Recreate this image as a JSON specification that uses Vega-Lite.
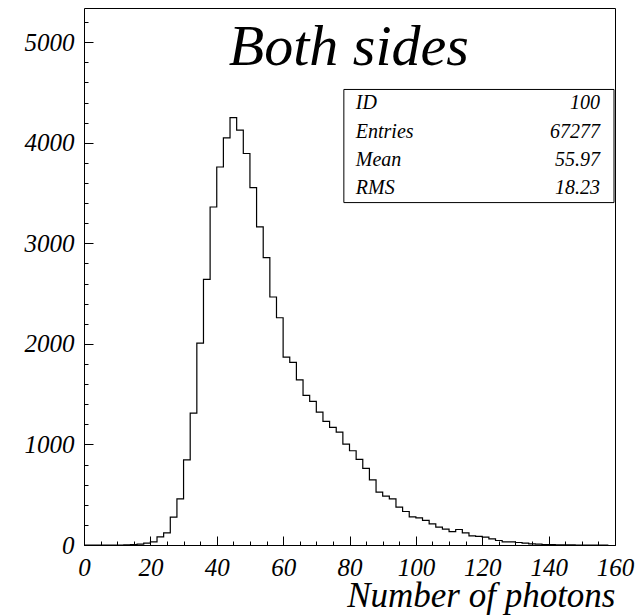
{
  "$schema": "https://vega.github.io/schema/vega-lite/v6.json",
  "width": 531,
  "height": 537,
  "autosize": {"type": "none"},
  "padding": {"left": 84, "top": 8, "right": 27, "bottom": 71},
  "background": "white",
  "config": {
    "view": {"stroke": "black", "strokeWidth": 1},
    "font": "Liberation Serif",
    "axis": {"grid": false, "domain": false, "tickColor": "black", "tickWidth": 1, "labelColor": "black", "titleColor": "black", "labelFont": "Liberation Serif", "titleFont": "Liberation Serif", "labelFontStyle": "italic", "titleFontStyle": "italic", "titleFontWeight": "normal", "labelFlush": false, "labelOverlap": false, "format": "d"}
  },
  "datasets": {
    "hist": [
      {"photons": 0, "entries": 0}, {"photons": 2, "entries": 0}, {"photons": 4, "entries": 0}, {"photons": 6, "entries": 0},
      {"photons": 8, "entries": 0}, {"photons": 10, "entries": 0}, {"photons": 12, "entries": 1}, {"photons": 14, "entries": 3},
      {"photons": 16, "entries": 8}, {"photons": 18, "entries": 18}, {"photons": 20, "entries": 32}, {"photons": 22, "entries": 81},
      {"photons": 24, "entries": 121}, {"photons": 26, "entries": 277}, {"photons": 28, "entries": 459}, {"photons": 30, "entries": 847},
      {"photons": 32, "entries": 1312}, {"photons": 34, "entries": 2008}, {"photons": 36, "entries": 2642}, {"photons": 38, "entries": 3361},
      {"photons": 40, "entries": 3759}, {"photons": 42, "entries": 4048}, {"photons": 44, "entries": 4250}, {"photons": 46, "entries": 4125},
      {"photons": 48, "entries": 3893}, {"photons": 50, "entries": 3554}, {"photons": 52, "entries": 3163}, {"photons": 54, "entries": 2857},
      {"photons": 56, "entries": 2466}, {"photons": 58, "entries": 2260}, {"photons": 60, "entries": 1869}, {"photons": 62, "entries": 1816},
      {"photons": 64, "entries": 1643}, {"photons": 66, "entries": 1488}, {"photons": 68, "entries": 1428}, {"photons": 70, "entries": 1322},
      {"photons": 72, "entries": 1229}, {"photons": 74, "entries": 1169}, {"photons": 76, "entries": 1123}, {"photons": 78, "entries": 1003},
      {"photons": 80, "entries": 937}, {"photons": 82, "entries": 851}, {"photons": 84, "entries": 761}, {"photons": 86, "entries": 648},
      {"photons": 88, "entries": 526}, {"photons": 90, "entries": 486}, {"photons": 92, "entries": 459}, {"photons": 94, "entries": 376},
      {"photons": 96, "entries": 333}, {"photons": 98, "entries": 280}, {"photons": 100, "entries": 270}, {"photons": 102, "entries": 244},
      {"photons": 104, "entries": 211}, {"photons": 106, "entries": 177}, {"photons": 108, "entries": 158}, {"photons": 110, "entries": 134},
      {"photons": 112, "entries": 154}, {"photons": 114, "entries": 121}, {"photons": 116, "entries": 91}, {"photons": 118, "entries": 85},
      {"photons": 120, "entries": 78}, {"photons": 122, "entries": 61}, {"photons": 124, "entries": 45}, {"photons": 126, "entries": 32},
      {"photons": 128, "entries": 32}, {"photons": 130, "entries": 25}, {"photons": 132, "entries": 18}, {"photons": 134, "entries": 12},
      {"photons": 136, "entries": 8}, {"photons": 138, "entries": 5}, {"photons": 140, "entries": 3}, {"photons": 142, "entries": 2},
      {"photons": 144, "entries": 1}, {"photons": 146, "entries": 1}, {"photons": 148, "entries": 0}, {"photons": 150, "entries": 0},
      {"photons": 152, "entries": 0}, {"photons": 154, "entries": 0}, {"photons": 156, "entries": 0}, {"photons": 158, "entries": 0}
    ],
    "stats": [
      {"stat": "ID", "value": "100"},
      {"stat": "Entries", "value": "67277"},
      {"stat": "Mean", "value": "55.97"},
      {"stat": "RMS", "value": "18.23"}
    ],
    "plotTitle": [{"label": "Both sides"}]
  },
  "layer": [
    {
      "data": {"name": "hist"},
      "mark": {"type": "line", "interpolate": "step-after", "color": "black", "strokeWidth": 1.2},
      "encoding": {
        "x": {"field": "photons", "type": "quantitative", "scale": {"domain": [0, 160], "nice": false},
          "axis": {"orient": "bottom", "values": [0, 20, 40, 60, 80, 100, 120, 140, 160], "tickSize": -9, "labelPadding": 19, "labelFontSize": 25,
            "title": "Number of photons", "titleFontSize": 35, "titleAnchor": "end", "titleAlign": "right", "titlePadding": -2}},
        "y": {"field": "entries", "type": "quantitative", "scale": {"domain": [0, 5340], "nice": false},
          "axis": {"orient": "left", "values": [0, 1000, 2000, 3000, 4000, 5000], "tickSize": -9, "labelPadding": 19, "labelFontSize": 25, "title": null}}
      }
    },
    {
      "data": {"name": "plotTitle"},
      "mark": {"type": "rect", "fill": "white", "fillOpacity": 0, "stroke": "black", "strokeWidth": 1},
      "encoding": {
        "x": {"datum": 78.3, "type": "quantitative",
          "axis": {"orient": "bottom", "values": [0,5,10,15,20,25,30,35,40,45,50,55,60,65,70,75,80,85,90,95,100,105,110,115,120,125,130,135,140,145,150,155,160], "tickSize": -4, "labels": false, "title": null}},
        "x2": {"datum": 159.7},
        "y": {"datum": 4530, "type": "quantitative",
          "axis": {"orient": "left", "values": [0,200,400,600,800,1000,1200,1400,1600,1800,2000,2200,2400,2600,2800,3000,3200,3400,3600,3800,4000,4200,4400,4600,4800,5000,5200], "tickSize": -4, "labels": false, "title": null}},
        "y2": {"datum": 3405}
      }
    },
    {
      "data": {"name": "plotTitle"},
      "mark": {"type": "text", "font": "Liberation Serif", "fontStyle": "italic", "fontSize": 58, "align": "center", "baseline": "alphabetic", "color": "black"},
      "encoding": {"x": {"datum": 79.8, "type": "quantitative", "axis": null}, "y": {"datum": 4775, "type": "quantitative", "axis": null}, "text": {"field": "label"}}
    },
    {
      "data": {"name": "stats"},
      "transform": [{"filter": "datum.stat === 'ID'"}],
      "encoding": {"y": {"datum": 4334, "type": "quantitative", "axis": null}},
      "layer": [
        {"mark": {"type": "text", "font": "Liberation Serif", "fontStyle": "italic", "fontSize": 20, "align": "left", "baseline": "alphabetic", "color": "black"},
         "encoding": {"x": {"datum": 81.9, "type": "quantitative", "axis": null}, "text": {"field": "stat"}}},
        {"mark": {"type": "text", "font": "Liberation Serif", "fontStyle": "italic", "fontSize": 20, "align": "right", "baseline": "alphabetic", "color": "black"},
         "encoding": {"x": {"datum": 155.5, "type": "quantitative", "axis": null}, "text": {"field": "value"}}}
      ]
    },
    {
      "data": {"name": "stats"},
      "transform": [{"filter": "datum.stat === 'Entries'"}],
      "encoding": {"y": {"datum": 4050, "type": "quantitative", "axis": null}},
      "layer": [
        {"mark": {"type": "text", "font": "Liberation Serif", "fontStyle": "italic", "fontSize": 20, "align": "left", "baseline": "alphabetic", "color": "black"},
         "encoding": {"x": {"datum": 81.9, "type": "quantitative", "axis": null}, "text": {"field": "stat"}}},
        {"mark": {"type": "text", "font": "Liberation Serif", "fontStyle": "italic", "fontSize": 20, "align": "right", "baseline": "alphabetic", "color": "black"},
         "encoding": {"x": {"datum": 155.5, "type": "quantitative", "axis": null}, "text": {"field": "value"}}}
      ]
    },
    {
      "data": {"name": "stats"},
      "transform": [{"filter": "datum.stat === 'Mean'"}],
      "encoding": {"y": {"datum": 3770, "type": "quantitative", "axis": null}},
      "layer": [
        {"mark": {"type": "text", "font": "Liberation Serif", "fontStyle": "italic", "fontSize": 20, "align": "left", "baseline": "alphabetic", "color": "black"},
         "encoding": {"x": {"datum": 81.9, "type": "quantitative", "axis": null}, "text": {"field": "stat"}}},
        {"mark": {"type": "text", "font": "Liberation Serif", "fontStyle": "italic", "fontSize": 20, "align": "right", "baseline": "alphabetic", "color": "black"},
         "encoding": {"x": {"datum": 155.5, "type": "quantitative", "axis": null}, "text": {"field": "value"}}}
      ]
    },
    {
      "data": {"name": "stats"},
      "transform": [{"filter": "datum.stat === 'RMS'"}],
      "encoding": {"y": {"datum": 3490, "type": "quantitative", "axis": null}},
      "layer": [
        {"mark": {"type": "text", "font": "Liberation Serif", "fontStyle": "italic", "fontSize": 20, "align": "left", "baseline": "alphabetic", "color": "black"},
         "encoding": {"x": {"datum": 81.9, "type": "quantitative", "axis": null}, "text": {"field": "stat"}}},
        {"mark": {"type": "text", "font": "Liberation Serif", "fontStyle": "italic", "fontSize": 20, "align": "right", "baseline": "alphabetic", "color": "black"},
         "encoding": {"x": {"datum": 155.5, "type": "quantitative", "axis": null}, "text": {"field": "value"}}}
      ]
    }
  ],
  "resolve": {"axis": {"x": "independent", "y": "independent"}}
}
